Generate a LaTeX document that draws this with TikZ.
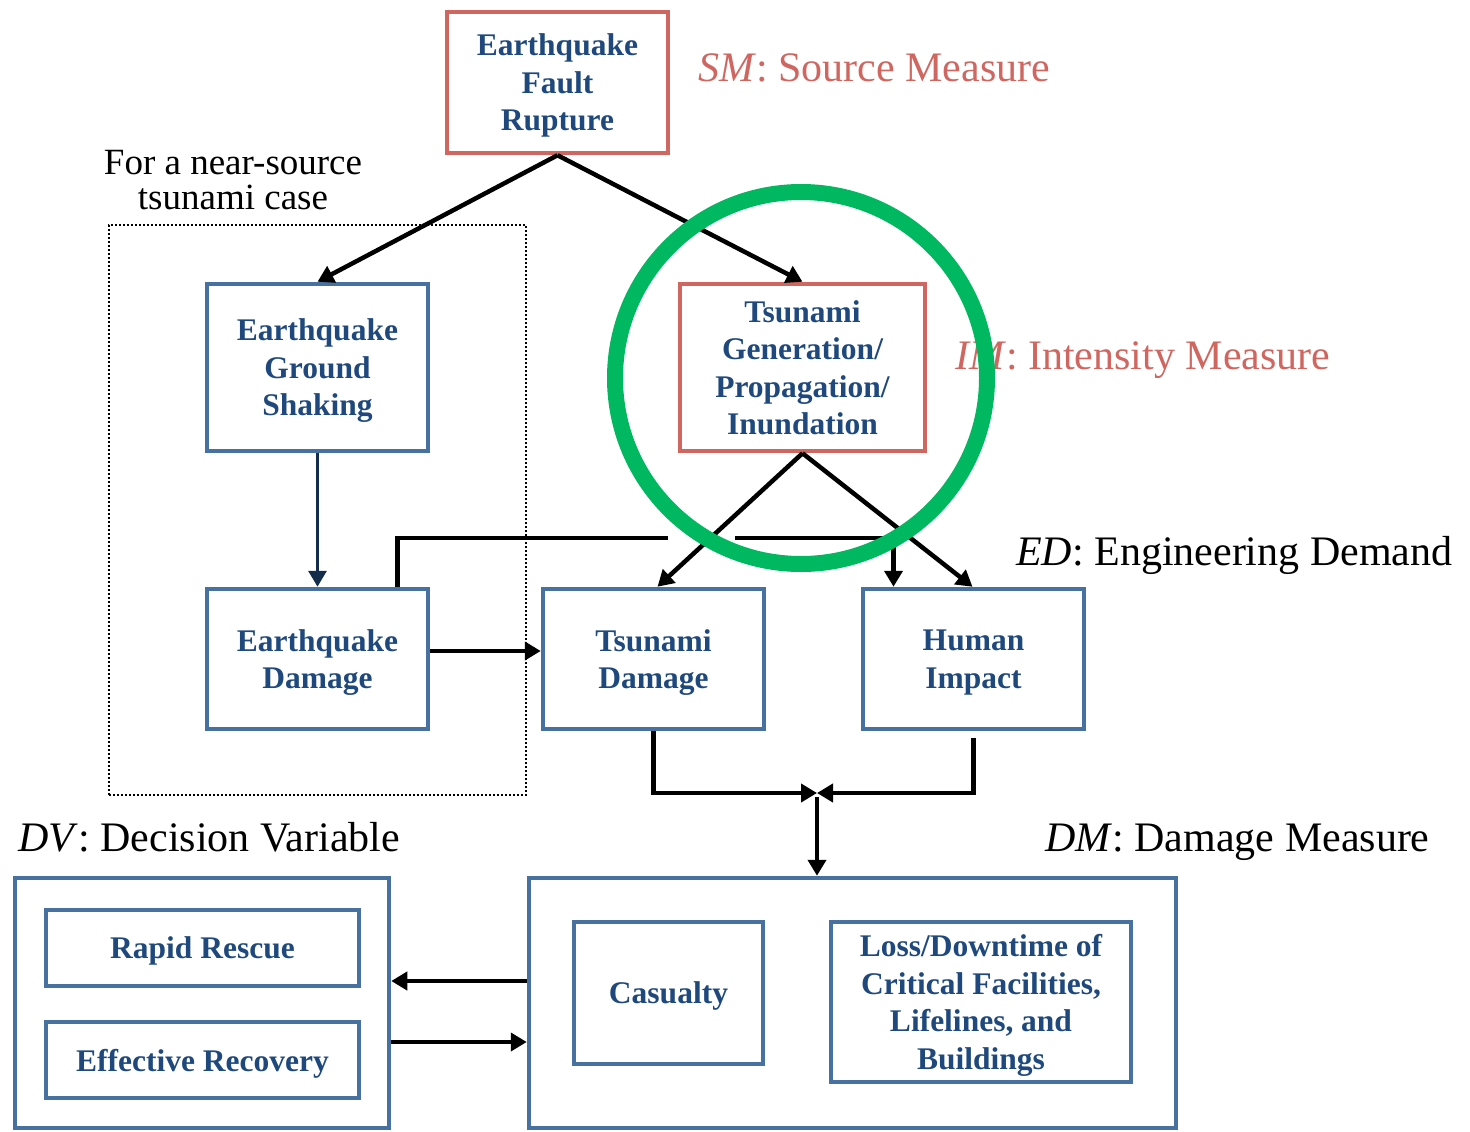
\documentclass[tikz,border=0pt]{standalone}
\usepackage{fontspec}
\setmainfont{Liberation Serif}
\usepackage{xcolor}
\usetikzlibrary{arrows.meta,calc}

\definecolor{boxblue}{RGB}{71,113,160}
\definecolor{txtblue}{RGB}{31,73,125}
\definecolor{boxred}{RGB}{208,102,96}
\definecolor{imgreen}{RGB}{0,184,96}
\definecolor{navy}{RGB}{20,45,75}

\begin{document}
\begin{tikzpicture}[x=1pt,y=-1pt]
            \tikzset{box/.style = {draw=boxblue, line width=4.5pt, align=center, text=txtblue, inner sep=0pt,
                text depth=-3pt, font=\fontsize{31.5}{37.5}\selectfont\bfseries}}
            \tikzset{redbox/.style = {box, draw=boxred}}
            \tikzset{tag/.style = {anchor=west, inner sep=0pt, text height=29pt, text depth=0pt, font=\fontsize{42}{46}\selectfont}}
            \tikzset{edge/.style = {line width=4.5pt, -{Triangle[length=16pt,width=18pt]}}}

            \useasboundingbox (0,0) rectangle (1470,1132);

            % group frame
            \node[draw, line width=2.2pt, dash pattern=on 2pt off 2pt, minimum width=417pt, minimum height=570pt] (nearsrc) at (317.5,510) {};
            \node[align=center, inner sep=0pt, font=\fontsize{37}{35}\selectfont] (nearlbl) at (233,180) {For a near-source\\tsunami case};

            % boxes
            \node[redbox, minimum width=221pt, minimum height=141pt] (rupture) at (557.5,82.5) {Earthquake\\Fault\\Rupture};
            \node[box, minimum width=221pt, minimum height=167pt] (shaking) at (317.5,367.5) {Earthquake\\Ground\\Shaking};
            \node[redbox, minimum width=245pt, minimum height=167pt] (tsgen) at (802.5,367.5) {Tsunami\\Generation/\\Propagation/\\Inundation};
            \node[box, minimum width=221pt, minimum height=140pt] (eqdmg) at (317.5,659) {Earthquake\\Damage};
            \node[box, minimum width=221pt, minimum height=140pt] (tsdmg) at (653.5,659) {Tsunami\\Damage};
            \node[box, minimum width=221pt, minimum height=140pt] (human) at (973.5,659) {Human\\Impact};
            \node[box, minimum width=374pt, minimum height=250pt] (dvbox) at (202,1003) {};
            \node[box, minimum width=313pt, minimum height=76pt] (rescue) at (202.5,948) {Rapid Rescue};
            \node[box, minimum width=313pt, minimum height=76pt] (recovery) at (202.5,1060) {Effective Recovery};
            \node[box, minimum width=647pt, minimum height=250pt] (dmbox) at (852.5,1003) {};
            \node[box, minimum width=189pt, minimum height=142pt] (casualty) at (668.5,993) {Casualty};
            \node[box, minimum width=300pt, minimum height=160pt] (loss) at (981,1002) {Loss/Downtime of\\Critical Facilities,\\Lifelines, and\\Buildings};

            % measure labels
            \node[tag, text=boxred] (smlbl) at (698,67) {\textit{SM}: Source Measure};
            \node[tag, text=boxred] (imlbl) at (955,355) {\textit{IM}: Intensity Measure};
            \node[tag] (edlbl) at (1016,551) {\textit{ED}: Engineering Demand};
            \node[tag] (dvlbl) at (18,837) {\textit{DV}: Decision Variable};
            \node[tag] (dmlbl) at (1045,837) {\textit{DM}: Damage Measure};

            % edges
            \draw[edge] (rupture.south) to (shaking.north);
            \draw[edge] (rupture.south) to (tsgen.north);
            \draw[edge, navy, line width=3.2pt] (shaking.south) to (eqdmg.north);
            \draw[edge] ([yshift=8pt]eqdmg.east) to ([yshift=8pt]tsdmg.west);
            \draw[edge] ([xshift=80pt]eqdmg.north) -- ++(0,-49) -| ([xshift=-80pt]human.north);
            \draw[white, line width=10pt] (668,538) -- (735,538);
            \draw[edge] (tsgen.south) to ([xshift=4pt]tsdmg.north);
            \draw[edge] (tsgen.south) to ([xshift=-1pt]human.north);

            \coordinate (merge) at (817,793);
            \draw[edge] (tsdmg.south) |- (merge);
            \draw[edge] ([yshift=-7pt]human.south) |- (merge);
            \draw[edge] ([yshift=-4pt]merge) to (merge |- dmbox.north);
            \draw[edge] ([yshift=22pt]dmbox.west) to ([yshift=22pt]dvbox.east);
            \draw[edge] ([yshift=-39pt]dvbox.east) to ([yshift=-39pt]dmbox.west);

            % highlight
            \node[circle, draw=imgreen, line width=16pt, minimum size=372pt, inner sep=0pt] (focus) at (801,378) {};

          \end{tikzpicture}
\end{document}
